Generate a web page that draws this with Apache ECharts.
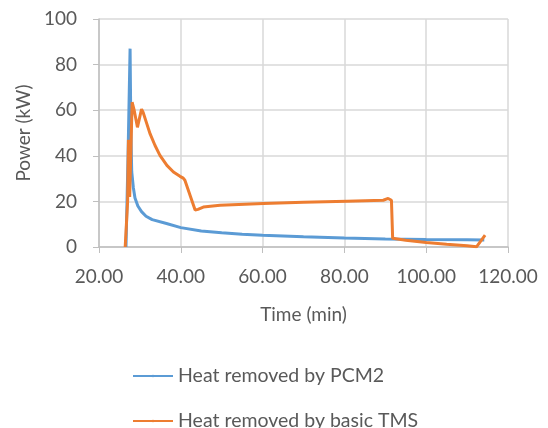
<!DOCTYPE html>
<html>
<head>
<meta charset="utf-8">
<script src="https://cdn.jsdelivr.net/npm/echarts@6/dist/echarts.min.js"></script>
<style>
  html, body { margin: 0; padding: 0; background: #fff; }
  #chart { width: 548px; height: 428px; }
</style>
</head>
<body>
<div id="chart"></div>
<script>
// Heat removed vs time
const pcmTime = [26.6, 27.1, 27.6, 27.8, 28.0, 28.4, 28.8, 29.5, 30.4, 31.5, 33.0, 36.5, 40.0, 45.0, 50.0, 55.0, 60.0, 70.0, 80.0, 90.0, 100.0, 110.0, 114.2];
const pcmPower = [0, 40, 87, 50, 33, 26, 21.5, 18, 15.5, 13.5, 12, 10.3, 8.5, 7.0, 6.2, 5.6, 5.2, 4.5, 3.9, 3.5, 3.3, 3.2, 3.1];

const tmsTime = [26.4, 27.0, 27.2, 27.5, 28.1, 28.6, 29.4, 29.8, 30.4, 30.8, 31.7, 32.5, 33.7, 34.9, 36.6, 38.2, 39.8, 40.6, 41.0, 43.5, 44.2, 45.5, 49.6, 60.2, 70.0, 80.6, 89.5, 90.7, 91.5, 91.8, 95.0, 100.0, 105.0, 110.0, 112.3, 114.4];
const tmsPower = [0, 20, 47, 22, 63.5, 60, 52.5, 52, 60.5, 59, 54, 49.6, 44.5, 40.2, 35.8, 32.9, 31, 30.2, 29.3, 16.2, 16.5, 17.5, 18.3, 19.1, 19.6, 20.1, 20.5, 21.3, 20.5, 3.8, 3.0, 2.0, 1.2, 0.5, 0.1, 5.2];

const seriesNames = ['Heat removed by PCM2', 'Heat removed by basic TMS'];

const font = 'Lato, "Open Sans", sans-serif';
const textColor = '#595959';

function pairs(xs, ys) {
    return xs.map((x, i) => [x, ys[i]]);
}

const option = {
    animation: false,
    grid: { left: 99, right: 40, top: 19, bottom: 181 },
    legend: {
        orient: 'vertical',
        left: 132,
        top: 366,
        height: 150,
        padding: 0,
        itemWidth: 40,
        itemHeight: 3,
        itemGap: 25,
        textStyle: { fontFamily: font, fontSize: 19.5, color: textColor },
        data: seriesNames
    },
    xAxis: {
        type: 'value',
        min: 20,
        max: 120,
        interval: 20,
        name: 'Time (min)',
        nameLocation: 'middle',
        nameGap: 58,
        nameTextStyle: { fontFamily: font, fontSize: 19, color: textColor },
        axisLine: { lineStyle: { color: '#bfbfbf', width: 1.5 } },
        axisTick: { show: true, length: 6, lineStyle: { color: '#bfbfbf' } },
        axisLabel: {
            fontFamily: font, fontSize: 19, color: textColor, margin: 20,
            formatter: v => v.toFixed(2)
        },
        splitLine: { show: true, lineStyle: { color: '#d9d9d9', width: 1.5 } }
    },
    yAxis: {
        type: 'value',
        min: 0,
        max: 100,
        interval: 20,
        name: 'Power (kW)',
        nameLocation: 'middle',
        nameGap: 64,
        nameTextStyle: { fontFamily: font, fontSize: 19, color: textColor },
        axisLine: { show: true, lineStyle: { color: '#bfbfbf', width: 1.5 } },
        axisTick: { show: true, length: 6, lineStyle: { color: '#bfbfbf' } },
        axisLabel: { fontFamily: font, fontSize: 19, color: textColor, margin: 22 },
        splitLine: { show: true, lineStyle: { color: '#d9d9d9', width: 1.5 } }
    },
    series: [
        {
            name: seriesNames[0],
            type: 'line',
            symbol: 'none',
            color: '#5b9bd5',
            lineStyle: { width: 3 },
            data: pairs(pcmTime, pcmPower)
        },
        {
            name: seriesNames[1],
            type: 'line',
            symbol: 'none',
            color: '#ed7d31',
            lineStyle: { width: 3 },
            data: pairs(tmsTime, tmsPower)
        }
    ]
};

const myChart = echarts.init(document.getElementById('chart'));
myChart.setOption(option);
</script>
</body>
</html>
